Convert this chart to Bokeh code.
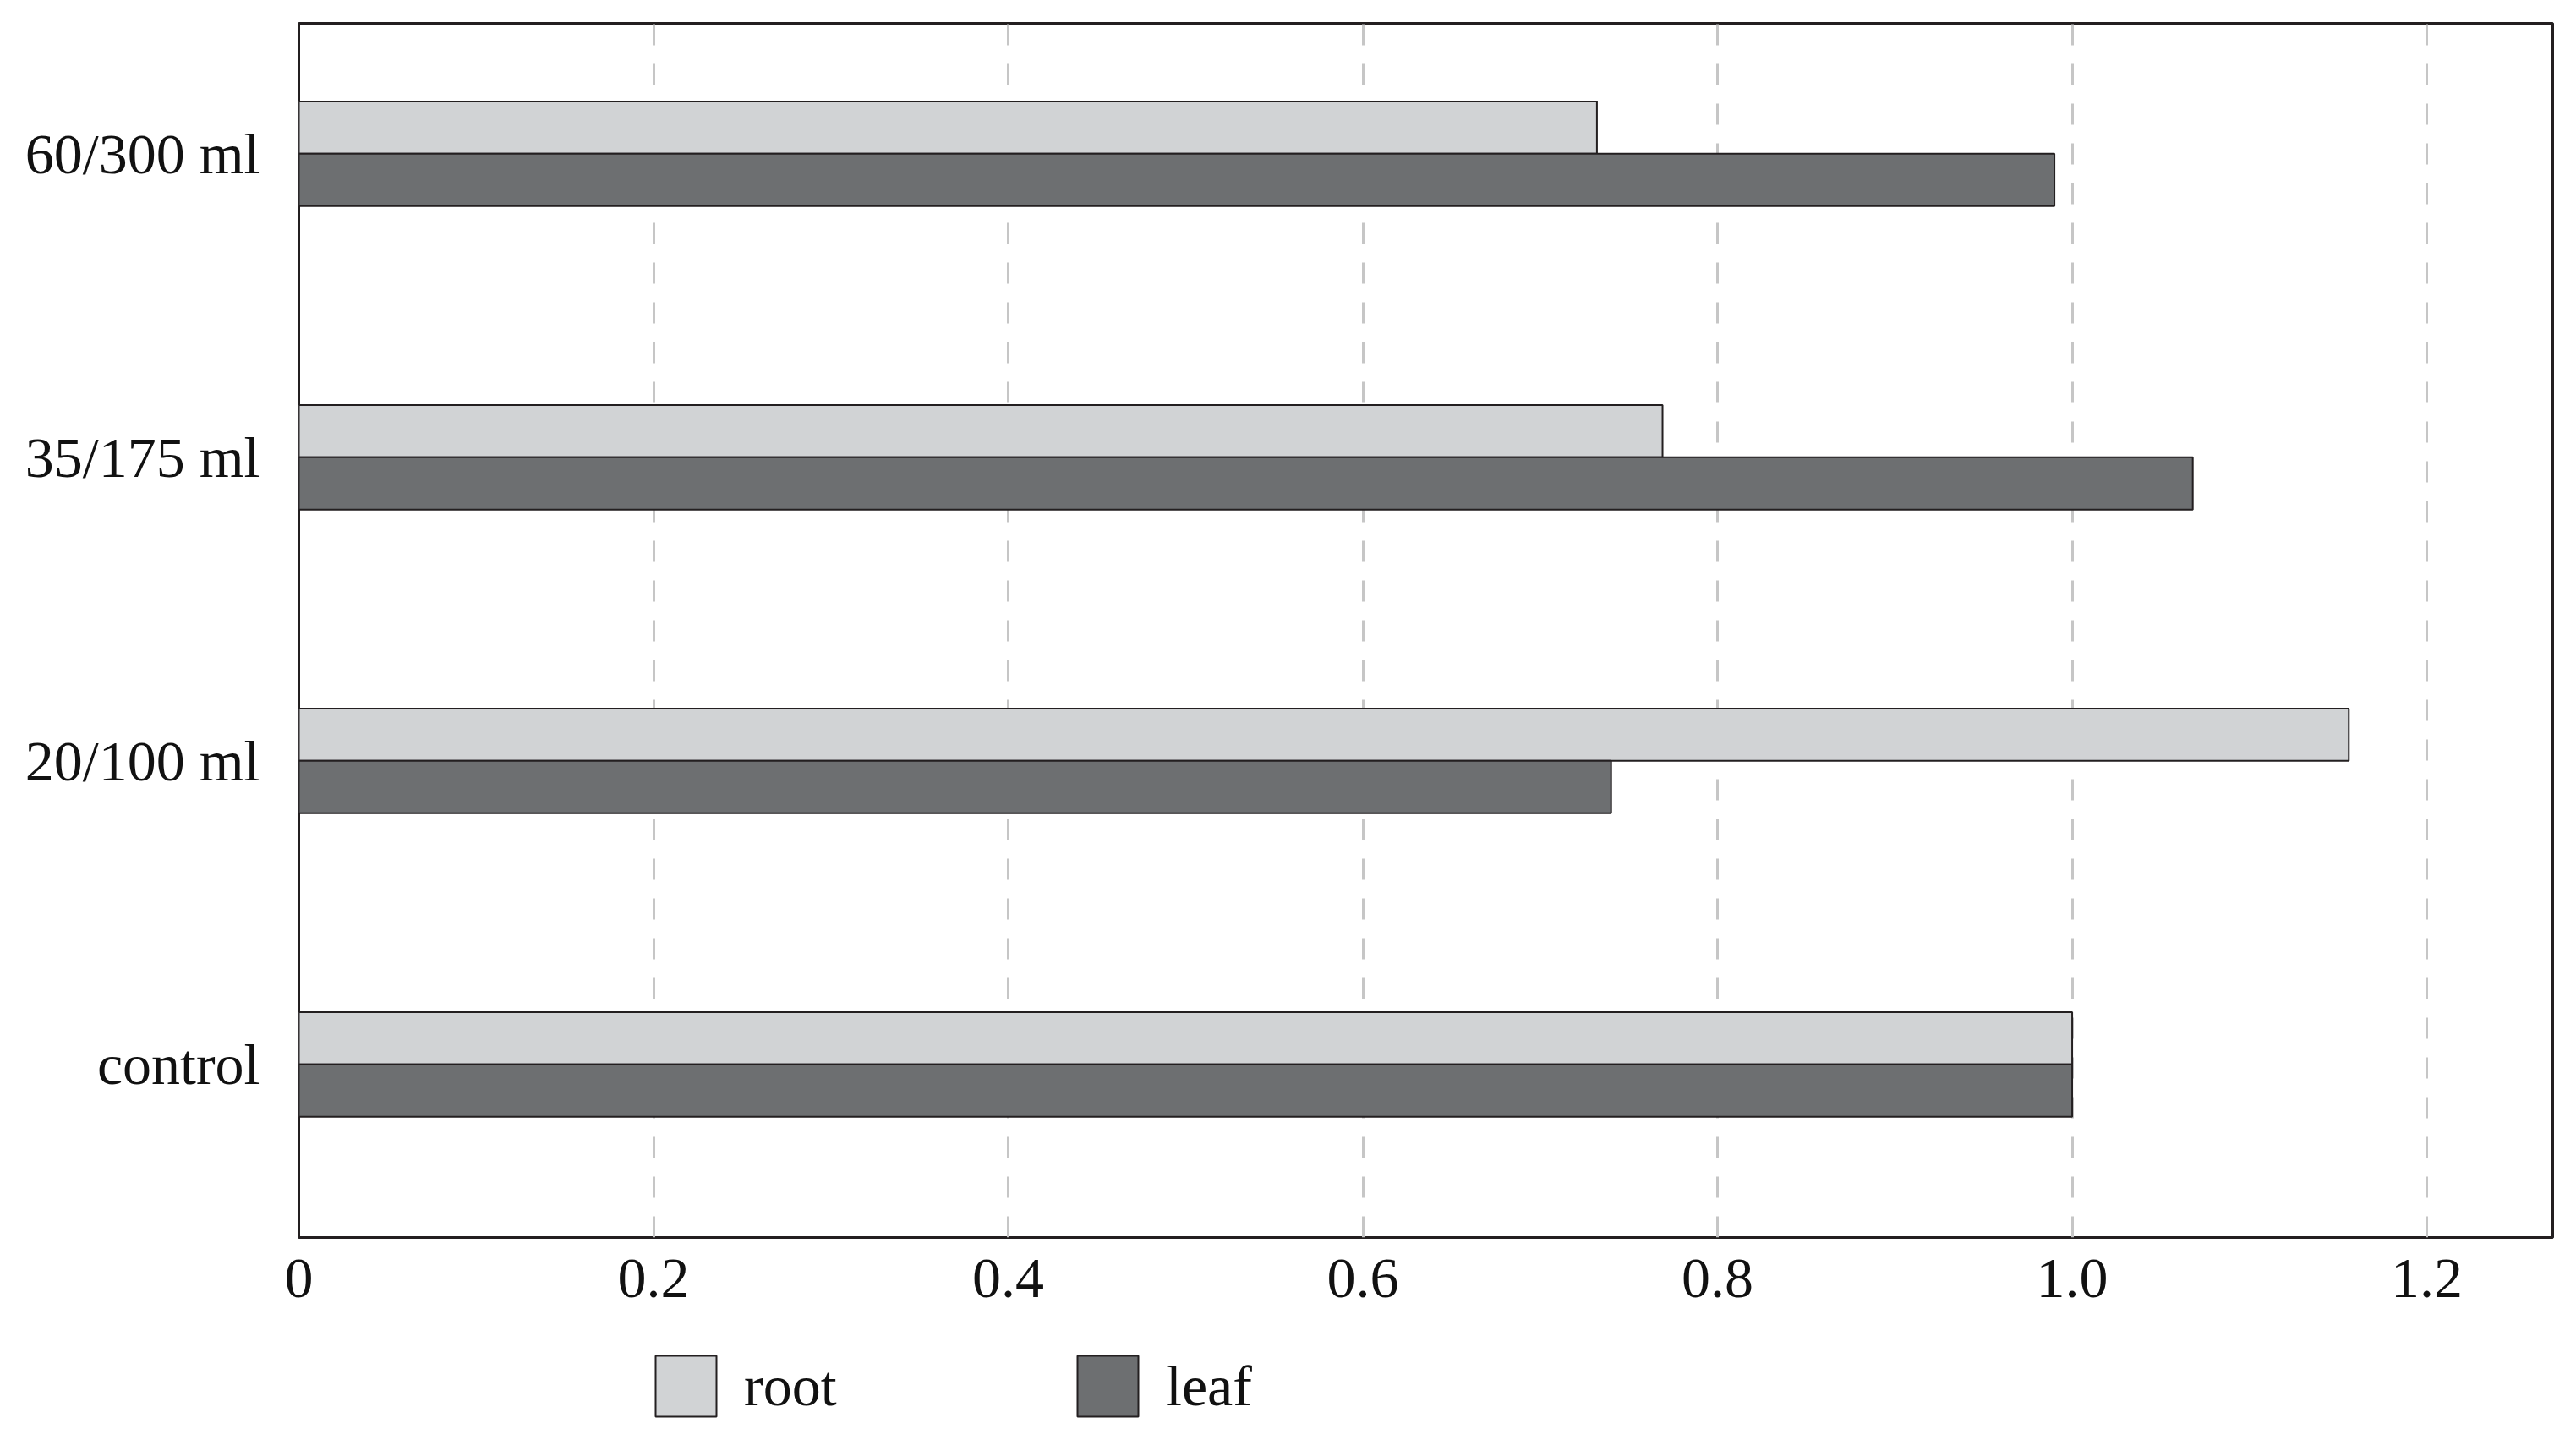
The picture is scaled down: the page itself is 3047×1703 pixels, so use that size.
from bokeh.plotting import figure
from bokeh.layouts import column
from bokeh.models import ColumnDataSource, Range1d, FixedTicker, Legend, LegendItem
from bokeh.embed import file_html
from bokeh.resources import INLINE

categories = ["control", "20/100 ml", "35/175 ml", "60/300 ml"]
root = [1.0, 1.156, 0.769, 0.732]
leaf = [1.0, 0.740, 1.068, 0.990]
x_ticks = [0, 0.2, 0.4, 0.6, 0.8, 1.0, 1.2]
x_tick_labels = ["0", "0.2", "0.4", "0.6", "0.8", "1.0", "1.2"]
series_names = ["root", "leaf"]
series_colors = ["#d1d3d5", "#6d6f71"]

BAR_H = 0.1725
FONT = "Liberation Serif"
EDGE = "#231f20"

pos = list(range(len(categories)))
root_src = ColumnDataSource(dict(y=[p_ + BAR_H / 2 for p_ in pos], right=root))
leaf_src = ColumnDataSource(dict(y=[p_ - BAR_H / 2 for p_ in pos], right=leaf))

W = 3031
H_MAIN = 1575
H_LEG = 112

p = figure(width=W, height=H_MAIN, output_backend="svg", toolbar_location=None,
           x_range=Range1d(0, 1.271), y_range=Range1d(-0.57, 3.43),
           min_border_left=353, min_border_right=12, min_border_top=27, min_border_bottom=112)

p.hbar(y="y", right="right", left=0, height=BAR_H, source=root_src,
       fill_color=series_colors[0], line_color=EDGE, line_width=2)
p.hbar(y="y", right="right", left=0, height=BAR_H, source=leaf_src,
       fill_color=series_colors[1], line_color=EDGE, line_width=2)

p.outline_line_color = EDGE
p.outline_line_width = 3
p.outline_line_alpha = 1

p.xaxis.ticker = FixedTicker(ticks=x_ticks)
p.xaxis.major_label_overrides = {t: l for t, l in zip(x_ticks, x_tick_labels)}
p.yaxis.ticker = FixedTicker(ticks=pos)
p.yaxis.major_label_overrides = {i: c for i, c in zip(pos, categories)}

for ax in (p.xaxis[0], p.yaxis[0]):
    ax.axis_line_color = None
    ax.major_tick_line_color = None
    ax.minor_tick_line_color = None
    ax.major_label_text_font = FONT
    ax.major_label_text_font_size = "68px"
    ax.major_label_text_color = "#111111"
p.xaxis.major_label_standoff = 20
p.yaxis.major_label_standoff = 40

p.xgrid.ticker = FixedTicker(ticks=x_ticks[1:])
p.xgrid.grid_line_color = "#c6c6c6"
p.xgrid.grid_line_width = 3
p.xgrid.grid_line_dash = "25 22"
p.ygrid.grid_line_color = None

# Legend strip below the chart (same series, drawn out of view; only the legend shows)
p2 = figure(width=W, height=H_LEG, output_backend="svg", toolbar_location=None,
            x_range=Range1d(50, 60), y_range=Range1d(50, 60),
            x_axis_type=None, y_axis_type=None, min_border=0,
            min_border_left=353, min_border_right=12)
p2.outline_line_color = None
p2.xgrid.visible = False
p2.ygrid.visible = False
lr_root = p2.hbar(y="y", right="right", left=0, height=BAR_H, source=root_src,
                  fill_color=series_colors[0], line_color=EDGE, line_width=2)
lr_leaf = p2.hbar(y="y", right="right", left=0, height=BAR_H, source=leaf_src,
                  fill_color=series_colors[1], line_color=EDGE, line_width=2)

legend = Legend(items=[LegendItem(label=series_names[0], renderers=[lr_root]),
                       LegendItem(label=series_names[1], renderers=[lr_leaf])],
                orientation="horizontal", location=(413, 3),
                glyph_width=90, glyph_height=90, label_standoff=24,
                label_width=361, label_height=90, spacing=24,
                padding=0, margin=0, border_line_alpha=0, background_fill_alpha=0,
                label_text_font=FONT, label_text_font_size="68px",
                label_text_color="#111111")
p2.add_layout(legend, "center")

layout = column(p, p2, spacing=0)
open("out.html", "w").write(file_html(layout, INLINE))
